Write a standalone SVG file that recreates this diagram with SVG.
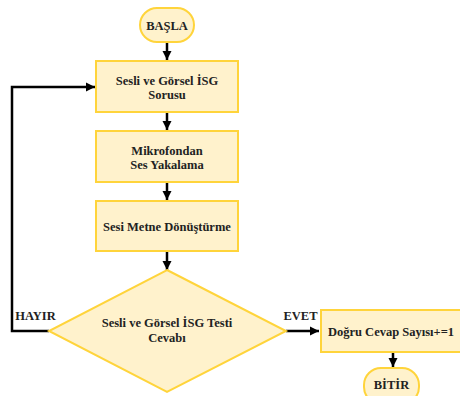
<svg xmlns="http://www.w3.org/2000/svg" width="460" height="396" viewBox="0 0 460 396">
<defs>
<marker id="ah" markerUnits="userSpaceOnUse" markerWidth="10" markerHeight="10" refX="9" refY="5" orient="auto">
<path d="M0,0.5 L9,5 L0,9.5 Z" fill="#000"/>
</marker>
<style>
.n{fill:#fff2cc;stroke:#ffd43b;stroke-width:2}
.t{font-family:"Liberation Serif","Times New Roman",serif;font-weight:bold;font-size:12.5px;fill:#222;text-anchor:middle}
.c{fill:none;stroke:#000;stroke-width:2.5}
</style>
</defs>
<rect width="460" height="396" fill="#fff"/>
<g id="connectors">
<path class="c" d="M167,42 V60" marker-end="url(#ah)"/>
<path class="c" d="M167,112 V130" marker-end="url(#ah)"/>
<path class="c" d="M167,182 V200" marker-end="url(#ah)"/>
<path class="c" d="M167,251 V270" marker-end="url(#ah)"/>
<path class="c" d="M49,331 H12 V87 H95" marker-end="url(#ah)"/>
<path class="c" d="M286,331 H319" marker-end="url(#ah)"/>
<path class="c" d="M393,352 V367" marker-end="url(#ah)"/>
<text class="t" x="35.5" y="320">HAYIR</text>
<text class="t" x="300.5" y="320">EVET</text>
</g>
<g id="basla">
<rect class="n" x="140" y="8" width="54" height="34" rx="17"/>
<text class="t" x="167" y="29.5">BAŞLA</text>
</g>
<g id="soru">
<rect class="n" x="96" y="61" width="142" height="51"/>
<text class="t" x="167" y="84.5">Sesli ve Görsel İSG</text>
<text class="t" x="167" y="98.5">Sorusu</text>
</g>
<g id="mikrofon">
<rect class="n" x="96" y="131" width="142" height="51"/>
<text class="t" x="167" y="154.5">Mikrofondan</text>
<text class="t" x="167" y="168.5">Ses Yakalama</text>
</g>
<g id="donustur">
<rect class="n" x="96" y="201" width="142" height="50"/>
<text class="t" x="167" y="230.5">Sesi Metne Dönüştürme</text>
</g>
<g id="karar">
<polygon class="n" points="167,270 286,331 167,392 49,331"/>
<text class="t" x="167" y="327">Sesli ve Görsel İSG Testi</text>
<text class="t" x="167" y="342">Cevabı</text>
</g>
<g id="dogru">
<rect class="n" x="321" y="310" width="140" height="42"/>
<text class="t" x="391" y="335.5">Doğru Cevap Sayısı+=1</text>
</g>
<g id="bitir">
<rect class="n" x="364" y="368" width="55" height="36" rx="17"/>
<text class="t" x="391.5" y="388.5">BİTİR</text>
</g>
</svg>
